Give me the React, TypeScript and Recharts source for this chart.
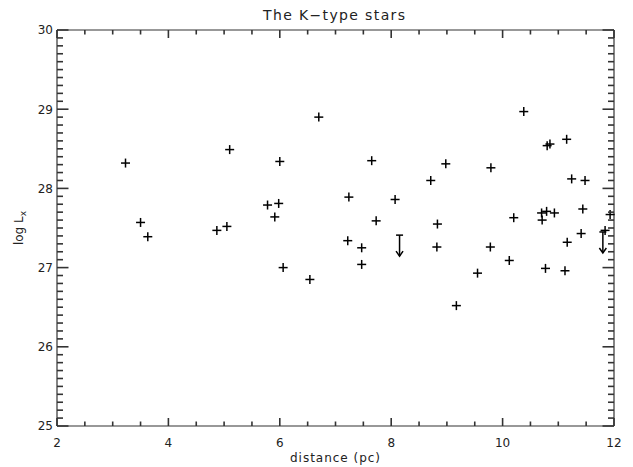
import React from "react";
import { ScatterChart, Scatter, XAxis, YAxis } from "recharts";

// Detections: distance (pc) and log Lx
const detDistance = [
  3.23, 3.5, 3.63, 4.87, 5.05, 5.1, 5.78, 5.91, 5.98, 6.0, 6.06, 6.54, 6.7, 7.22, 7.24, 7.47,
  7.47, 7.65, 7.73, 8.07, 8.71, 8.82, 8.83, 8.98, 9.17, 9.55, 9.78, 9.79, 10.12, 10.2, 10.38,
  10.7, 10.71, 10.77, 10.79, 10.8, 10.85, 10.93, 11.12, 11.15, 11.16, 11.24, 11.41, 11.44,
  11.48, 11.84, 11.93,
];
const detLogLx = [
  28.32, 27.57, 27.39, 27.47, 27.52, 28.49, 27.79, 27.64, 27.81, 28.34, 27.0, 26.85, 28.9,
  27.34, 27.89, 27.25, 27.04, 28.35, 27.59, 27.86, 28.1, 27.26, 27.55, 28.31, 26.52, 26.93,
  27.26, 28.26, 27.09, 27.63, 28.97, 27.69, 27.6, 26.99, 27.71, 28.54, 28.56, 27.69, 26.96,
  28.62, 27.32, 28.12, 27.43, 27.74, 28.1, 27.47, 27.67,
];

// Upper limits
const ulDistance = [8.15, 11.8];
const ulLogLx = [27.41, 27.45];

// Axis ticks and texts
const xMajorTicks = [2, 4, 6, 8, 10, 12];
const yMajorTicks = [25, 26, 27, 28, 29, 30];
const xTicks: number[] = [];
for (let i = 0; i <= 20; i++) xTicks.push(Math.round((2 + i * 0.5) * 10) / 10);
const yTicks: number[] = [];
for (let i = 0; i <= 50; i++) yTicks.push(Math.round((25 + i * 0.1) * 10) / 10);
const TITLE = "The K−type stars";
const X_LABEL = "distance (pc)";

const detections = detDistance.map((d, i) => ({ x: d, y: detLogLx[i] }));
const upperLimits = ulDistance.map((d, i) => ({ x: d, y: ulLogLx[i] }));

// layout
const W = 633;
const H = 467;
const PLOT_LEFT = 57;
const PLOT_RIGHT = 614;
const PLOT_TOP = 30;
const PLOT_BOTTOM = 426;

const FONT = "DejaVu Sans";
const TXT = "#222";
const TICK = "#333";
const TW = 1.6;

const isXMajor = (v: number) => xMajorTicks.indexOf(v) >= 0;
const isYMajor = (v: number) => yMajorTicks.indexOf(v) >= 0;

const BottomTick = (props: any) => {
  const { x, y, payload } = props;
  const v = payload.value;
  const major = isXMajor(v);
  const len = major ? 8 : 4.5;
  return (
    <g>
      <path d={`M${x},${y}v${-len}`} stroke={TICK} strokeWidth={TW} fill="none" />
      <path d={`M${x},${PLOT_TOP}v${len}`} stroke={TICK} strokeWidth={TW} fill="none" />
      {major && (
        <text x={x} y={y + 21} textAnchor="middle" fontFamily={FONT} fontSize={12} fill={TXT}>
          {v}
        </text>
      )}
    </g>
  );
};

const LeftTick = (props: any) => {
  const { x, y, payload } = props;
  const v = payload.value;
  const major = isYMajor(v);
  const len = major ? 11.5 : 6;
  return (
    <g>
      <path d={`M${x},${y}h${len}`} stroke={TICK} strokeWidth={TW} fill="none" />
      <path d={`M${PLOT_RIGHT},${y}h${-len}`} stroke={TICK} strokeWidth={TW} fill="none" />
      {major && (
        <text x={x - 4} y={y + 4.4} textAnchor="end" fontFamily={FONT} fontSize={12} fill={TXT}>
          {v}
        </text>
      )}
    </g>
  );
};

const Cross = (props: any) => {
  const { cx, cy } = props;
  const h = 4.5;
  return (
    <g>
      <line x1={cx - h} x2={cx + h} y1={cy} y2={cy} stroke="#000" strokeWidth={1.5} />
      <line x1={cx} x2={cx} y1={cy - h} y2={cy + h} stroke="#000" strokeWidth={1.5} />
    </g>
  );
};

const UpperLimit = (props: any) => {
  const { cx, cy } = props;
  const w = 3.5;
  const len = 21;
  return (
    <g>
      <line x1={cx - w} x2={cx + w} y1={cy} y2={cy} stroke="#000" strokeWidth={1.5} />
      <line x1={cx} x2={cx} y1={cy} y2={cy + len} stroke="#000" strokeWidth={1.5} />
      <polyline
        points={`${cx - w},${cy + len - 5} ${cx},${cy + len} ${cx + w},${cy + len - 5}`}
        fill="none"
        stroke="#000"
        strokeWidth={1.5}
      />
    </g>
  );
};

const TitleLabel = () => (
  <text x={334} y={20} textAnchor="middle" fontFamily={FONT} fontSize={14} fill={TXT} textLength={142} lengthAdjust="spacing">
    {TITLE}
  </text>
);
const XLabel = () => (
  <text x={335} y={462} textAnchor="middle" fontFamily={FONT} fontSize={12} fill={TXT} textLength={90} lengthAdjust="spacing">
    {X_LABEL}
  </text>
);
const YLabel = () => (
  <text x={22.5} y={228} textAnchor="middle" fontFamily={FONT} fontSize={12} fill={TXT} transform="rotate(-90, 22.5, 228)">
    log L<tspan dy={3} fontSize={9}>x</tspan>
  </text>
);

export default function App() {
  return (
    <div style={{ position: "absolute", left: 0, top: 0 }}>
      <ScatterChart
        width={W}
        height={H}
        margin={{ top: PLOT_TOP - 1, right: W - PLOT_RIGHT - 1, bottom: 0, left: 0 }}
      >
        <XAxis
          xAxisId="b"
          type="number"
          dataKey="x"
          domain={[2, 12]}
          ticks={xTicks}
          interval={0}
          tickSize={0}
          tickMargin={0}
          tickLine={false}
          stroke={TICK}
          strokeWidth={1.2}
          height={H - PLOT_BOTTOM}
          tick={BottomTick}
          label={XLabel}
        />
        <XAxis
          xAxisId="t"
          orientation="top"
          type="number"
          domain={[2, 12]}
          tick={false}
          tickLine={false}
          stroke={TICK}
          strokeWidth={1.2}
          height={1}
          label={TitleLabel}
        />
        <YAxis
          yAxisId="l"
          type="number"
          dataKey="y"
          domain={[25, 30]}
          ticks={yTicks}
          interval={0}
          tickSize={0}
          tickMargin={0}
          tickLine={false}
          stroke={TICK}
          strokeWidth={1.2}
          width={PLOT_LEFT}
          tick={LeftTick}
          label={YLabel}
        />
        <YAxis
          yAxisId="r"
          orientation="right"
          type="number"
          domain={[25, 30]}
          tick={false}
          tickLine={false}
          stroke={TICK}
          strokeWidth={1.2}
          width={1}
        />
        <Scatter xAxisId="b" yAxisId="l" data={detections} shape={Cross} isAnimationActive={false} />
        <Scatter xAxisId="b" yAxisId="l" data={upperLimits} shape={UpperLimit} isAnimationActive={false} />
      </ScatterChart>
    </div>
  );
}
